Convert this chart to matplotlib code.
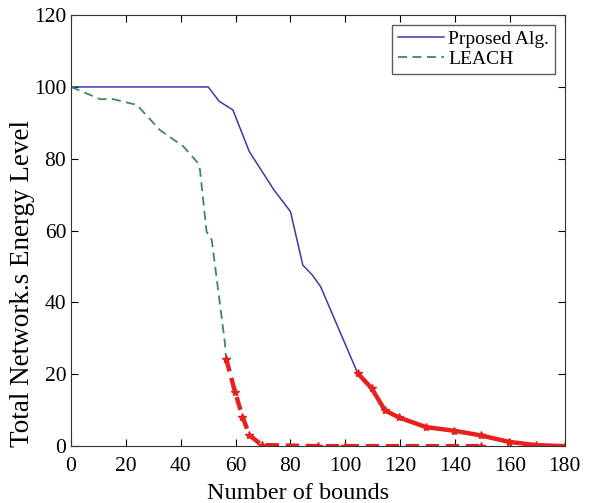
import matplotlib
matplotlib.use('Agg')
import matplotlib.pyplot as plt

# Proposed algorithm (blue solid)
prop_x = [0, 50, 54, 59, 65, 74, 80, 84.5, 88, 91, 104.5]
prop_y = [100, 100, 96, 93.6, 82, 71.3, 65.3, 50.4, 47.6, 44.4, 20.3]

# tail of proposed algorithm (red solid with markers)
prop_tail_x = [104.5, 109.6, 114.4, 119.5, 129.4, 139.6, 149.4, 159.6, 169.5, 180]
prop_tail_y = [20.3, 16.1, 10, 8, 5.3, 4.3, 3, 1.2, 0.3, 0]

# LEACH (green dashed)
leach_x = [0, 10.6, 15.4, 24, 32.4, 41, 46.3, 47, 49.4, 51.3, 56.1, 56.5]
leach_y = [100, 96.6, 96.6, 95, 88, 83.4, 78.8, 77, 59.7, 57.4, 28.7, 24.4]

# tail of LEACH (red dashed with markers)
leach_tail_x = [56.5, 59.8, 62.5, 65, 69.5, 90, 100, 149.4]
leach_tail_y = [24.4, 15.1, 8.2, 3.1, 0.3, 0, 0, 0]

plt.rcParams['font.family'] = ['Liberation Serif', 'DejaVu Serif']

fig = plt.figure(figsize=(5.97, 5.03), dpi=100)
ax = fig.add_axes([0.119, 0.113, 0.827, 0.857])

ax.plot(prop_x, prop_y, '-', color='#3a3aa8', lw=1.1, label='Prposed Alg.')
ax.plot(leach_x, leach_y, '--', color='#3d8a52', lw=1.3, dashes=(5, 3), label='LEACH')
ax.plot(prop_tail_x, prop_tail_y, '-', color='#e8201e', lw=3.2, marker='*', ms=6)
ax.plot(leach_tail_x, leach_tail_y, '--', color='#e8201e', lw=3.2, dashes=(3, 1.5),
        marker='*', ms=6)

ax.set_xlim(0, 180)
ax.set_ylim(0, 120)
ax.set_xticks(range(0, 181, 20))
ax.set_yticks(range(0, 121, 20))
ax.tick_params(direction='in', top=True, right=True, labelsize=15.5, length=5)
ax.tick_params(axis='x', pad=8)
for s in ax.spines.values():
    s.set_color('#333333')
ax.set_xlabel('Number of bounds', fontsize=17.5)
ax.set_ylabel('Total Network.s Energy Level', fontsize=19.5)
ax.xaxis.set_label_coords(0.46, -0.085)
ax.yaxis.set_label_coords(-0.073, 0.378)

leg = ax.legend(loc='upper right', fontsize=14, fancybox=False, edgecolor='#333333',
                handlelength=2.4, handletextpad=0.2, borderpad=0.3, labelspacing=0.1,
                borderaxespad=0.5)
leg.get_frame().set_linewidth(1.0)

fig.savefig('out.png', dpi=100)
